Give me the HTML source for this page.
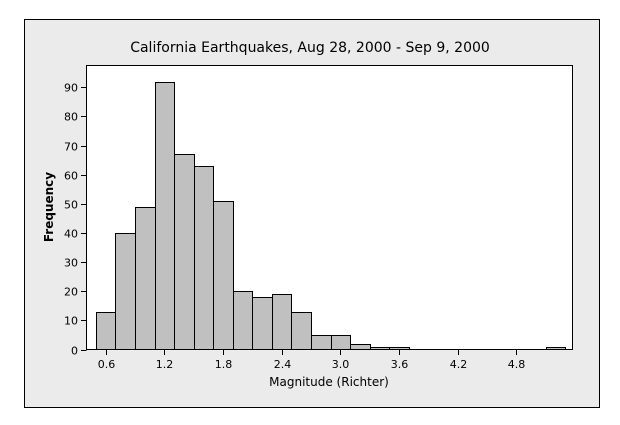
<!DOCTYPE html>
<html><head><meta charset="utf-8"><style>
html,body{margin:0;padding:0;background:#fff;width:620px;height:425px;overflow:hidden}
svg text{font-family:"DejaVu Sans","Liberation Sans",sans-serif;fill:#000}
</style></head><body>
<svg id="chart" width="620" height="425" xmlns="http://www.w3.org/2000/svg">
<rect x="24.5" y="19.5" width="575" height="388" fill="#ebebeb" stroke="#000" stroke-width="1"/>
<rect x="86.5" y="65.5" width="486" height="284" fill="#fff" stroke="#000" stroke-width="1"/>
<text x="310" y="52" text-anchor="middle" font-size="14">California Earthquakes, Aug 28, 2000 - Sep 9, 2000</text>
<text x="329" y="386" text-anchor="middle" font-size="12">Magnitude (Richter)</text>
<text transform="translate(53,207) rotate(-90)" text-anchor="middle" font-size="12" font-weight="bold">Frequency</text>
<g id="bars"></g><g id="axes"></g>
</svg>
<script>
const binCenters=[0.6,0.8,1.0,1.2,1.4,1.6,1.8,2.0,2.2,2.4,2.6,2.8,3.0,3.2,3.4,3.6,3.8,4.0,4.2,4.4,4.6,4.8,5.0,5.2];
const counts=[13,40,49,92,67,63,51,20,18,19,13,5,5,2,1,1,0,0,0,0,0,0,0,1];
const xTicks=["0.6","1.2","1.8","2.4","3.0","3.6","4.2","4.8"];
const yTicks=[0,10,20,30,40,50,60,70,80,90];
const binWidth=0.2;
const NS="http://www.w3.org/2000/svg";
function xs(v){return 164.3+(v-1.2)*97.8;}
function ys(v){return 349.5-v*2.913;}
const bars=document.getElementById('bars'),axes=document.getElementById('axes');
binCenters.forEach((c,i)=>{
  if(counts[i]<=0)return;
  const r=document.createElementNS(NS,'rect');
  const x0=Math.round(xs(c-binWidth/2))+0.5,x1=Math.round(xs(c+binWidth/2))+0.5;
  const y=Math.round(ys(counts[i]))+0.5;
  r.setAttribute('x',x0);r.setAttribute('y',y);
  r.setAttribute('width',x1-x0);r.setAttribute('height',349.5-y);
  r.setAttribute('fill','#c0c0c0');r.setAttribute('stroke','#000');r.setAttribute('stroke-width','1');
  
  
  bars.appendChild(r);
});
yTicks.forEach(t=>{
  const y=Math.round(ys(t))+0.5;
  const l=document.createElementNS(NS,'line');
  l.setAttribute('x1',81);l.setAttribute('x2',86.5);l.setAttribute('y1',y);l.setAttribute('y2',y);l.setAttribute('stroke','#000');
  
  
  axes.appendChild(l);
  const tx=document.createElementNS(NS,'text');
  tx.setAttribute('x',78);tx.setAttribute('y',y+4);tx.setAttribute('text-anchor','end');tx.setAttribute('font-size','11');
  tx.textContent=t;
  
  
  axes.appendChild(tx);
});
xTicks.forEach(t=>{
  const x=Math.round(xs(parseFloat(t)))+0.5;
  const l=document.createElementNS(NS,'line');
  l.setAttribute('x1',x);l.setAttribute('x2',x);l.setAttribute('y1',349.5);l.setAttribute('y2',355);l.setAttribute('stroke','#000');
  
  
  axes.appendChild(l);
  const tx=document.createElementNS(NS,'text');
  tx.setAttribute('x',x);tx.setAttribute('y',368);tx.setAttribute('text-anchor','middle');tx.setAttribute('font-size','11');
  tx.textContent=t;
  
  
  axes.appendChild(tx);
});
</script>
</body></html>
